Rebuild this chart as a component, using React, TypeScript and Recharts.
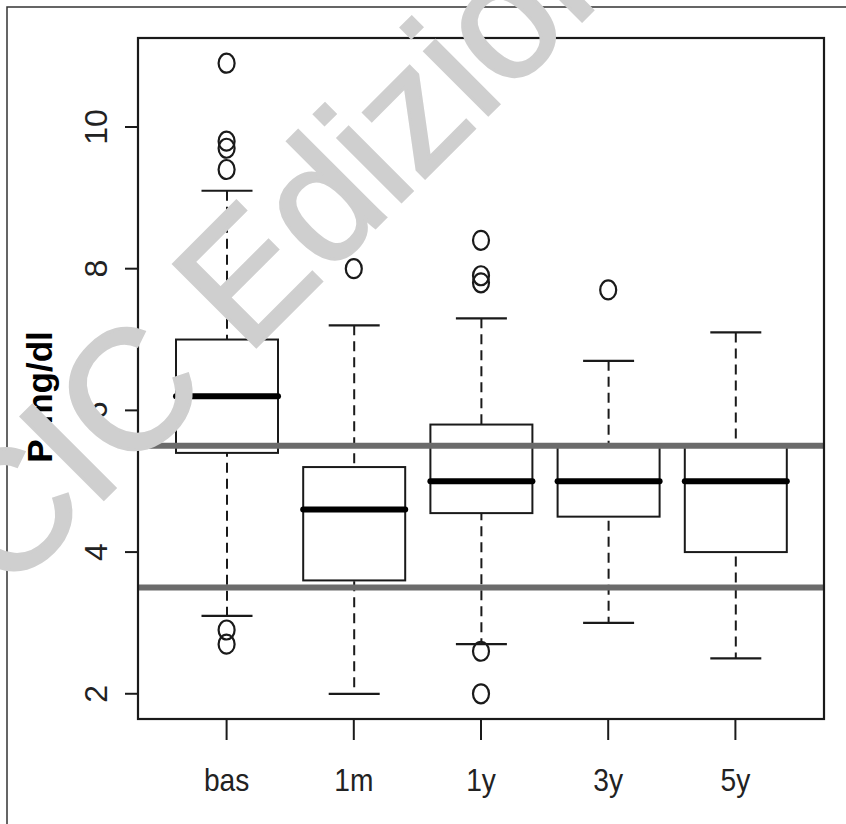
import React from "react";
import { ComposedChart, Bar, Scatter, XAxis, YAxis, ReferenceLine } from "recharts";

const groups = ["bas", "1m", "1y", "3y", "5y"];
const whiskerLow = [3.1, 2.0, 2.7, 3.0, 2.5];
const quartile1 = [5.4, 3.6, 4.55, 4.5, 4.0];
const medians = [6.2, 4.6, 5.0, 5.0, 5.0];
const quartile3 = [7.0, 5.2, 5.8, 5.5, 5.5];
const whiskerHigh = [9.1, 7.2, 7.3, 6.7, 7.1];

const outlierGroup = ["bas", "bas", "bas", "bas", "bas", "bas", "1m", "1y", "1y", "1y", "1y", "1y", "3y"];
const outlierValue = [10.9, 9.8, 9.7, 9.4, 2.9, 2.7, 8.0, 8.4, 7.9, 7.8, 2.6, 2.0, 7.7];

const referenceLevels = [5.5, 3.5];
const yTicks = [2, 4, 6, 8, 10];

const W = 846;
const H = 824;
const BOX_W = 102;
const FONT = "'Liberation Sans', Arial, Helvetica, sans-serif";
const INK = "#1a1a1a";

// R-style axis: data range extended by 4% on each side
const dataMin = 2.0;
const dataMax = 10.9;
const pad = (dataMax - dataMin) * 0.04;
const Y_DOMAIN = [dataMin - pad, dataMax + pad];

const rows = groups.map((name, i) => ({
  name,
  lo: whiskerLow[i],
  q1: quartile1[i],
  med: medians[i],
  q3: quartile3[i],
  hi: whiskerHigh[i],
}));

const outliers = outlierGroup.map((name, i) => ({ name, value: outlierValue[i] }));

const WhiskerShape = (props: any) => {
  const { x, y, width, height } = props;
  const cx = x + width / 2;
  const cap = width / 4;
  return (
    <g>
      <line x1={cx} y1={y} x2={cx} y2={y + height} stroke={INK} strokeWidth={2} strokeDasharray="10 6" />
      <line x1={cx - cap} y1={y} x2={cx + cap} y2={y} stroke={INK} strokeWidth={2.2} />
      <line x1={cx - cap} y1={y + height} x2={cx + cap} y2={y + height} stroke={INK} strokeWidth={2.2} />
    </g>
  );
};

const UpperBox = (props: any) => {
  const { x, y, width, height } = props;
  return <rect x={x} y={y} width={width} height={height} fill="#fff" stroke={INK} strokeWidth={2} />;
};

const LowerBox = (props: any) => {
  const { x, y, width, height } = props;
  return (
    <g>
      <rect x={x} y={y} width={width} height={height} fill="#fff" stroke={INK} strokeWidth={2} />
      <line x1={x} y1={y} x2={x + width} y2={y} stroke="#000" strokeWidth={6} strokeLinecap="round" />
    </g>
  );
};

const OutlierShape = (props: any) => {
  const { cx, cy } = props;
  return <ellipse cx={cx} cy={cy} rx={8} ry={9.5} fill="none" stroke={INK} strokeWidth={2.2} />;
};

const XTick = (props: any) => {
  const { x, y, payload } = props;
  return (
    <g transform={`translate(${x} ${y}) scale(0.88 1)`}>
      <text x={0} y={49} textAnchor="middle" fontSize={32} fontFamily={FONT} fill="#222">
        {payload.value}
      </text>
    </g>
  );
};

const YTick = (props: any) => {
  const { x, y, payload } = props;
  return (
    <text
      transform={`translate(${x} ${y}) rotate(-90)`}
      x={0}
      y={0}
      textAnchor="middle"
      fontSize={32}
      fontFamily={FONT}
      fill="#222"
    >
      {payload.value}
    </text>
  );
};

export default function App() {
  return (
    <div style={{ position: "absolute", left: 0, top: 0, width: W, height: H, overflow: "hidden", background: "#fff" }}>
      <ComposedChart
        width={W}
        height={H}
        data={rows}
        margin={{ top: 38, right: 22, bottom: 45, left: 68 }}
        barSize={BOX_W}
        barGap={-BOX_W}
      >
        <XAxis
          dataKey="name"
          type="category"
          allowDuplicatedCategory={false}
          height={60}
          padding={{ left: 25, right: 25 }}
          axisLine={false}
          tickLine={{ stroke: INK, strokeWidth: 2 }}
          tickSize={21}
          tickMargin={2}
          interval={0}
          tick={<XTick />}
        />
        <YAxis
          type="number"
          domain={Y_DOMAIN}
          ticks={yTicks}
          width={70}
          axisLine={false}
          tickLine={{ stroke: INK, strokeWidth: 2 }}
          tickSize={13}
          tickMargin={18}
          tick={<YTick />}
        />
        <Bar dataKey={(d: any) => [d.lo, d.hi]} shape={WhiskerShape} isAnimationActive={false} />
        <Bar dataKey={(d: any) => [d.med, d.q3]} shape={UpperBox} isAnimationActive={false} />
        <Bar dataKey={(d: any) => [d.q1, d.med]} shape={LowerBox} isAnimationActive={false} />
        <Scatter data={outliers} dataKey="value" shape={OutlierShape} isAnimationActive={false} />
        {referenceLevels.map((v) => (
          <ReferenceLine key={v} y={v} stroke="#6b6b6b" strokeWidth={6} />
        ))}
      </ComposedChart>
      <svg width={W} height={H} style={{ position: "absolute", left: 0, top: 0, pointerEvents: "none" }}>
        <rect x={7} y={7} width={W + 20} height={H + 20} fill="none" stroke="#333" strokeWidth={1.5} />
        <rect x={138} y={38} width={686} height={681} fill="none" stroke={INK} strokeWidth={2.2} />
        <text
          transform="translate(52 397) rotate(-90)"
          textAnchor="middle"
          fontSize={35}
          fontWeight="bold"
          fontFamily={FONT}
          fill="#000"
        >
          P, mg/dl
        </text>
        <text
          transform="translate(6 597) rotate(-45)"
          fontSize={170}
          fontFamily={FONT}
          fill="#cfcfcf"
          stroke="#cfcfcf"
          strokeWidth={3}
        >
          CIC Edizioni
        </text>
      </svg>
    </div>
  );
}
